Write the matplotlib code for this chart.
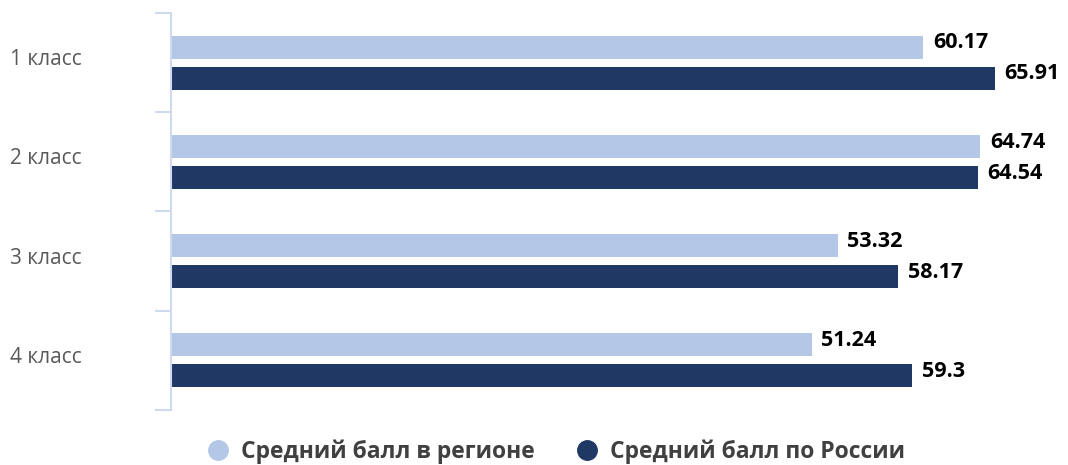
import matplotlib.pyplot as plt
from matplotlib.lines import Line2D
from matplotlib.transforms import blended_transform_factory

classes = ["1 класс", "2 класс", "3 класс", "4 класс"]
region = [60.17, 64.74, 53.32, 51.24]
russia = [65.91, 64.54, 58.17, 59.3]
russia_labels = ["65.91", "64.54", "58.17", "59.3"]
region_labels = ["60.17", "64.74", "53.32", "51.24"]
series_names = ["Средний балл в регионе", "Средний балл по России"]

light = "#B4C7E7"
dark = "#203864"

plt.rcParams['font.family'] = ['Open Sans', 'DejaVu Sans']

W, H = 1068, 465
fig = plt.figure(figsize=(W / 100, H / 100), dpi=100)
left, right, top, bottom = 171, 1050, 13, 410
ax = fig.add_axes([left / W, 1 - bottom / H, (right - left) / W, (bottom - top) / H])

n = len(classes)
ys = list(range(n))
off = 0.156
h = 0.232
ax.barh([y - off for y in ys], region, height=h, color=light)
ax.barh([y + off for y in ys], russia, height=h, color=dark)

# value labels to the right of each bar
for y, v, s in zip(ys, region, region_labels):
    ax.annotate(s, (v, y - off), xytext=(7, 3), textcoords="offset points",
                va="center", ha="left", fontsize=15.5, fontweight="bold", color="black")
for y, v, s in zip(ys, russia, russia_labels):
    ax.annotate(s, (v, y + off), xytext=(7, 3), textcoords="offset points",
                va="center", ha="left", fontsize=15.5, fontweight="bold", color="black")

ax.set_xlim(0, (right - left) / 12.5)
ax.set_ylim(n - 0.5, -0.5)
ax.set_xticks([])
ax.set_yticks([y - 0.5 for y in range(n + 1)])
ax.set_yticklabels([])
ax.tick_params(axis="y", length=11.5, color="#D0D9EE", width=1.5)

tr = blended_transform_factory(fig.transFigure, ax.transData)
for y, c in zip(ys, classes):
    ax.text(10 / W, y - 0.03, c, transform=tr, ha="left", va="center",
            fontsize=15, color="#595959")

for sp in ["top", "right", "bottom"]:
    ax.spines[sp].set_visible(False)
ax.spines["left"].set_color("#D0D9EE")
ax.spines["left"].set_linewidth(1.5)

handles = [Line2D([], [], marker="o", linestyle="", markersize=14, color=light),
           Line2D([], [], marker="o", linestyle="", markersize=14, color=dark)]
fig.legend(handles, series_names, loc="center", bbox_to_anchor=(550 / W, 1 - 452 / H),
           ncol=2, frameon=False, handletextpad=0.0, columnspacing=1.25,
           prop={"size": 16.5, "weight": "bold"}, labelcolor="#404040")

fig.savefig("out.png", dpi=100)
